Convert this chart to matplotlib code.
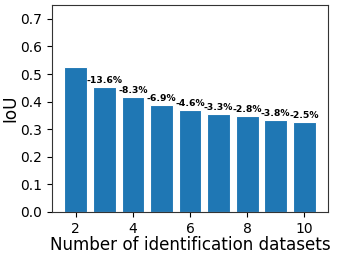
import matplotlib
matplotlib.use("Agg")
import matplotlib.pyplot as plt

datasets = [2, 3, 4, 5, 6, 7, 8, 9, 10]
iou = [0.525, 0.4535, 0.416, 0.387, 0.369, 0.357, 0.347, 0.334, 0.326]
changes = ["-13.6%", "-8.3%", "-6.9%", "-4.6%", "-3.3%", "-2.8%", "-3.8%", "-2.5%"]

fig = plt.figure(figsize=(3.39, 2.56), dpi=100)
ax = fig.add_axes([0.153, 0.172, 0.815, 0.808])
ax.bar(datasets, iou, width=0.8, color="#1f77b4", edgecolor="white", linewidth=0.8)
for x, y, t in zip(datasets[1:], iou[1:], changes):
    ax.text(x, y + 0.007, t, ha="center", va="bottom", fontsize=6.7, fontweight="bold")
ax.set_ylim(0, 0.75)
ax.set_yticks([0.0, 0.1, 0.2, 0.3, 0.4, 0.5, 0.6, 0.7])
ax.set_xticks([2, 4, 6, 8, 10])
ax.tick_params(labelsize=10)
for s in ax.spines.values():
    s.set_color("#333333")
ax.set_xlabel("Number of identification datasets", fontsize=12.1, labelpad=0.5)
ax.set_ylabel("IoU", fontsize=12.2, labelpad=0.5)
fig.savefig("out.png", dpi=100)
